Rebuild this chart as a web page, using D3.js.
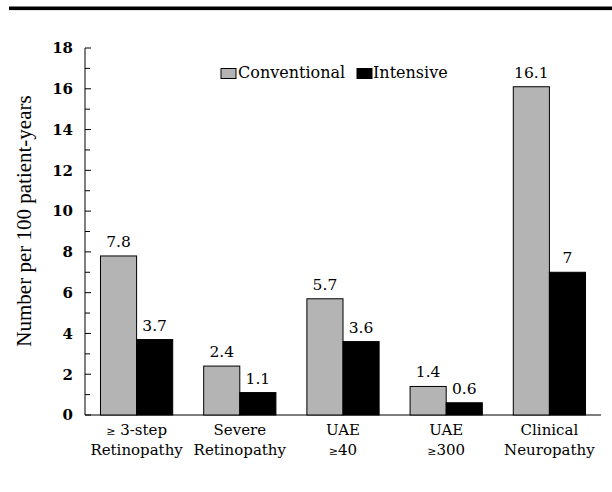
<!DOCTYPE html>
<html><head><meta charset="utf-8">
<script src="https://cdn.jsdelivr.net/npm/d3@7"></script>
<style>body{margin:0;background:#fff}svg{display:block}</style>
</head><body>
<svg id="c" width="612" height="492"></svg>
<script>
const categories = [["≥ 3-step","Retinopathy"],["Severe","Retinopathy"],["UAE","≥40"],["UAE","≥300"],["Clinical","Neuropathy"]];
const seriesNames = ["Conventional","Intensive"];
const conventional = [7.8, 2.4, 5.7, 1.4, 16.1];
const intensive = [3.7, 1.1, 3.6, 0.6, 7];
const yTicks = [0,2,4,6,8,10,12,14,16,18];
const colors = ["#b4b4b4","#000000"];

(function(){
const FONT = "'DejaVu Serif', serif";
const FONT2 = "'Liberation Serif', 'DejaVu Serif', serif";
const svg = d3.select("#c").attr("font-family",FONT);
const mL = 85, mR = 601, mT = 48, mB = 415;
const x0 = d3.scaleBand().domain(d3.range(categories.length)).range([mL,mR]).paddingInner(0.3).paddingOuter(0.15);
const x1 = d3.scaleBand().domain([0,1]).range([0,x0.bandwidth()]);
const y = d3.scaleLinear().domain([0,18]).range([mB,mT]);

svg.append("rect").attr("x",9).attr("y",6.5).attr("width",603).attr("height",3.6).attr("fill","#000");

const yAxis = d3.axisLeft(y).tickValues(yTicks).tickSize(0).tickPadding(12).tickFormat(d3.format("d"));
const gy = svg.append("g").attr("transform",`translate(${mL},0)`).call(yAxis);
gy.select(".domain").remove();
gy.attr("font-family",FONT).attr("font-size",15).attr("font-weight","bold");
svg.append("line").attr("x1",mL).attr("x2",mL).attr("y1",mT).attr("y2",mB).attr("stroke","#000").attr("stroke-width",1);
d3.range(0,19).forEach(v=>{
  svg.append("line").attr("x1",mL).attr("x2",mL+(v%2===0?6:5)).attr("y1",y(v)).attr("y2",y(v)).attr("stroke","#000").attr("stroke-width",1);
});
svg.append("line").attr("x1",mL).attr("x2",mR).attr("y1",mB).attr("y2",mB).attr("stroke","#000").attr("stroke-width",1.2);

const data = [conventional, intensive];
data.forEach((vals,s)=>{
  svg.append("g").selectAll("rect").data(vals).join("rect")
    .attr("x",(d,i)=>x0(i)+x1(s)).attr("y",d=>y(d)).attr("width",x1.bandwidth()).attr("height",d=>mB-y(d))
    .attr("fill",colors[s]).attr("stroke","#000").attr("stroke-width",1);
  svg.append("g").selectAll("text").data(vals).join("text")
    .attr("x",(d,i)=>x0(i)+x1(s)+x1.bandwidth()/2).attr("y",d=>y(d)-9)
    .attr("text-anchor","middle").attr("font-size",15.5).text(d=>d);
});

categories.forEach((lines,i)=>{
  const cx = x0(i)+x0.bandwidth()/2;
  lines.forEach((ln,j)=>{
    const t = svg.append("text").attr("x",cx).attr("y",435+j*20).attr("text-anchor","middle").attr("font-size",15);
    if(ln.startsWith("≥")){
      t.append("tspan").attr("font-size",11).text("≥");
      t.append("tspan").text(ln.slice(1));
    } else t.text(ln);
  });
});

svg.append("text").attr("transform","translate(31,221) rotate(-90)").attr("text-anchor","middle")
  .attr("font-family",FONT2).attr("font-size",21).text("Number per 100 patient-years");

const leg = [[221,238,seriesNames[0]],[357,373,seriesNames[1]]];
leg.forEach(([bx,tx,name],s)=>{
  svg.append("rect").attr("x",bx).attr("y",68.5).attr("width",15).attr("height",10).attr("fill",colors[s]).attr("stroke","#000").attr("stroke-width",1);
  svg.append("text").attr("x",tx).attr("y",77.5).attr("font-size",16).text(name);
});
})();
</script>
</body></html>
